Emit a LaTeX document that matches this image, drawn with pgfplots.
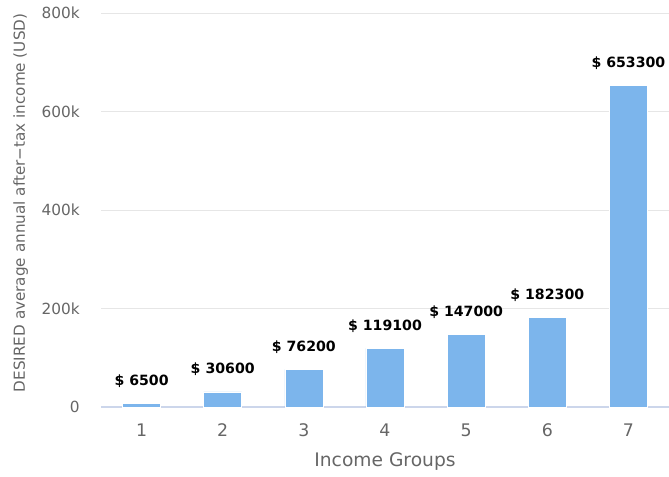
\documentclass[border=0pt]{standalone}
\usepackage{fontspec}
\setmainfont{DejaVu Sans}
\usepackage{pgfplots}
\pgfplotsset{compat=1.18}
\definecolor{barblue}{HTML}{7CB5EC}
\definecolor{gridgray}{HTML}{E6E6E6}
\definecolor{axisline}{HTML}{CCD6EB}
\definecolor{txt}{HTML}{666666}
\begin{document}
\begin{tikzpicture}
\begin{axis}[
  scale only axis, width=426pt, height=295.5pt,
  xmin=0.5, xmax=7.5, ymin=0, ymax=800000,
  /pgf/number format/assume math mode=true,
  axis x line*=bottom, axis y line*=left,
  x axis line style={draw=axisline, line width=0.9pt, -},
  y axis line style={draw=none},
  ymajorgrids, grid style={gridgray, line width=0.75pt},
  major tick length=0pt,
  xtick={1,2,3,4,5,6,7},
  xticklabels={1,2,3,4,5,6,7},
  ytick={0,200000,400000,600000,800000},
  yticklabels={0,200k,400k,600k,800k},
  scaled y ticks=false,
  yticklabel style={font=\fontsize{11.5}{13}\selectfont, text=txt, anchor=east, inner sep=0pt, xshift=-15.75pt},
  xticklabel style={font=\fontsize{13}{15}\selectfont, text=txt, anchor=base, inner sep=0pt, yshift=-22pt},
  xlabel={Income Groups},
  xlabel style={at={([yshift=-44.8pt]axis description cs:0.5,0)}, anchor=base, inner sep=0pt, font=\fontsize{14}{16}\selectfont, text=txt},
  ylabel={DESIRED average annual after−tax income (USD)},
  ylabel style={at={([xshift=-57pt]axis description cs:0,0.518)}, rotate=0, anchor=base, inner sep=0pt, font=\fontsize{11.4}{13}\selectfont, text=txt},
]
\addplot[ybar, bar width=28.5pt, fill=barblue, draw=white, line width=0.5pt,
  nodes near coords, point meta=explicit symbolic,
  every node near coord/.append style={anchor=base, yshift=13.5pt, inner sep=0pt, font=\bfseries\fontsize{10.6}{12}\selectfont, text=black}]
  coordinates {
  (1,6500) [\$ 6500]
  (2,30600) [\$ 30600]
  (3,76200) [\$ 76200]
  (4,119100) [\$ 119100]
  (5,147000) [\$ 147000]
  (6,182300) [\$ 182300]
  (7,653300) [\$ 653300]
  };
\end{axis}
\pgfresetboundingbox
\path[use as bounding box] (-75.75pt,-51.75pt) rectangle (426pt,305.25pt);
\end{tikzpicture}
\end{document}
